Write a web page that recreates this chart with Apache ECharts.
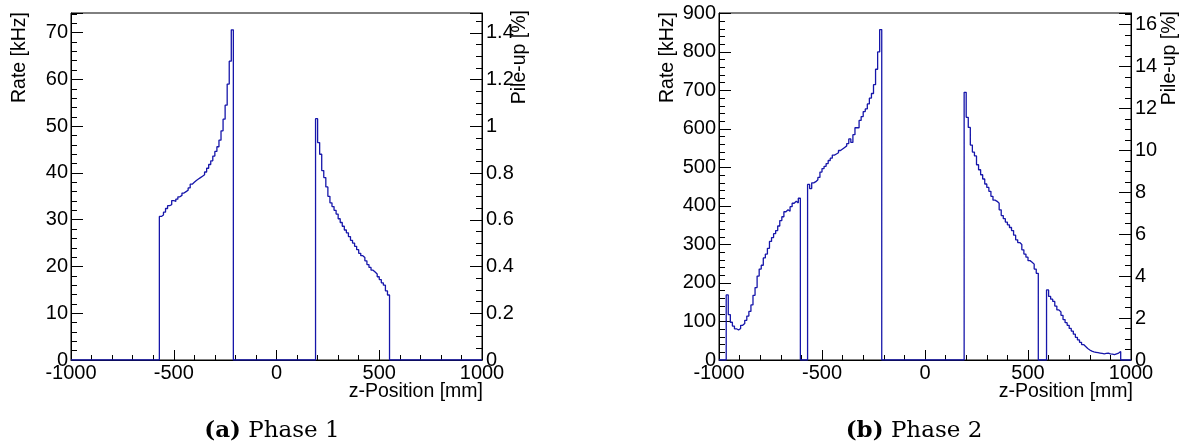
<!DOCTYPE html>
<html><head><meta charset="utf-8">
<script src="https://cdn.jsdelivr.net/npm/echarts@6/dist/echarts.min.js"></script>
<style>html,body{margin:0;padding:0;background:#fff}#c{width:1187px;height:446px}</style>
</head><body><div id="c"></div>
<script>
// ---------- data ----------
const binWidth = 10;                 // mm
const zRange = [-1000, 1000];        // mm
const zMajorStep = 500, zMinorStep = 100;

// Phase 1 : rate [kHz] per 10 mm bin, two sensor regions
const phase1Starts = [-570, 190];
const phase1RateA = [30.7, 31.0, 31.6, 32.4, 33.0, 33.2, 34.1, 33.9, 34.4, 34.9,
  35.2, 35.7, 36.0, 36.3, 36.8, 37.6, 38.0, 38.4, 38.7, 39.0,
  39.3, 39.6, 40.2, 41.0, 41.8, 42.6, 43.6, 44.6, 45.6, 47.0,
  49.0, 51.5, 54.5, 59.0, 63.9, 70.6];
const phase1RateB = [51.6, 46.5, 44.0, 40.5, 39.0, 37.0, 35.0, 33.6, 32.8, 32.0,
  31.2, 30.2, 29.4, 28.6, 27.8, 27.2, 26.4, 25.6, 25.0, 24.3,
  23.6, 22.8, 22.3, 21.9, 21.2, 20.4, 19.8, 19.2, 18.8, 18.4,
  17.8, 17.2, 16.5, 16.0, 14.8, 13.9];
const phase1RateAxis = {max: 74.2, major: 10, minor: 2};
const phase1PileAxis = {max: 1.485, major: 0.2, minor: 0.05};

// Phase 2 : rate [kHz] per 10 mm bin, four sensor regions
const phase2Starts = [-965, -570, 190, 590];
const phase2RateA = [169, 118, 98, 88, 81, 78, 82, 90, 95, 103,
  114, 126, 143, 168, 188, 218, 236, 246, 265, 275,
  290, 308, 318, 328, 336, 348, 362, 372, 385, 390,
  386, 398, 407, 412, 408, 420];
const phase2RateB = [456, 445, 460, 463, 468, 474, 488, 497, 503, 510,
  518, 524, 532, 535, 538, 544, 548, 552, 556, 562,
  574, 565, 585, 603, 603, 622, 632, 645, 652, 665,
  680, 692, 715, 755, 800, 858];
const phase2RateC = [695, 630, 604, 558, 540, 530, 507, 494, 481, 470,
  457, 448, 438, 425, 415, 412, 407, 390, 375, 367,
  358, 351, 344, 336, 324, 312, 305, 300, 286, 275,
  267, 258, 254, 249, 236, 225];
const phase2RateD = [182, 165, 158, 152, 140, 130, 125, 116, 105, 97,
  90, 82, 75, 67, 59, 52, 46, 40, 35, 30,
  26, 23, 21, 20, 19, 18, 17, 16, 17, 18,
  16, 15, 14, 16, 18, 22];
const phase2RateAxis = {max: 901, major: 100, minor: 20};
const phase2PileAxis = {max: 16.55, major: 2, minor: 0.5};

const texts = {
  rate: 'Rate [kHz]', pile: 'Pile-up [%]', z: 'z-Position [mm]',
  capA: ['(a)', 'Phase 1'], capB: ['(b)', 'Phase 2']
};

// ---------- build ----------
const BLUE = '#1616aa';
const FONT = 'Liberation Sans';
const FS = 20;
const TFS = 19.5;

function histPoints(starts, segs) {
  const pts = [[zRange[0], 0]];
  starts.forEach((s, k) => {
    const vals = segs[k];
    pts.push([s, 0]);
    vals.forEach((v, i) => { pts.push([s + i * binWidth, v]); pts.push([s + (i + 1) * binWidth, v]); });
    pts.push([s + vals.length * binWidth, 0]);
  });
  pts.push([zRange[1], 0]);
  return pts;
}

function fmt(step) {
  return function (v) {
    const r = v / step;
    if (Math.abs(r - Math.round(r)) > 1e-6) return '';
    return String(parseFloat(v.toFixed(3)));
  };
}

function xAxes(g) {
  return [
    {type: 'value', gridIndex: g, min: zRange[0], max: zRange[1], interval: zMajorStep, position: 'bottom',
     axisLine: {onZero: false, lineStyle: {color: '#000', width: 1}},
     axisTick: {inside: true, length: 10, lineStyle: {color: '#000'}},
     axisLabel: {margin: 3, color: '#000', fontSize: FS, fontFamily: FONT, formatter: fmt(zMajorStep)},
     splitLine: {show: false}},
    {type: 'value', gridIndex: g, min: zRange[0], max: zRange[1], interval: zMinorStep, position: 'bottom',
     axisLine: {show: false, onZero: false},
     axisTick: {inside: true, length: 5, lineStyle: {color: '#000'}},
     axisLabel: {show: false}, splitLine: {show: false}}
  ];
}
function yAxes(g, pos, ax) {
  return [
    {type: 'value', gridIndex: g, min: 0, max: ax.max, interval: ax.major, position: pos,
     axisLine: {show: true, onZero: false, lineStyle: {color: '#000', width: 1}},
     axisTick: {show: true, inside: true, length: 12, lineStyle: {color: '#000'}},
     axisLabel: {margin: pos === 'left' ? 3 : 4, color: '#000', fontSize: FS, fontFamily: FONT, formatter: fmt(ax.major)},
     splitLine: {show: false}},
    {type: 'value', gridIndex: g, min: 0, max: ax.max, interval: ax.minor, position: pos,
     axisLine: {show: false, onZero: false},
     axisTick: {show: true, inside: true, length: 6, lineStyle: {color: '#000'}},
     axisLabel: {show: false}, splitLine: {show: false}}
  ];
}

const grids = [
  {left: 71, top: 13, width: 411, height: 347},
  {left: 719, top: 13, width: 412, height: 347}
].map(g => Object.assign(g, {show: true, borderColor: '#000', borderWidth: 1, containLabel: false, outerBoundsMode: 'none'}));

function vtext(x, y, t) {
  return {type: 'text', x: x, y: y, rotation: Math.PI / 2, silent: true,
    style: {text: t, align: 'right', verticalAlign: 'middle', fill: '#000', font: TFS + 'px ' + FONT}};
}
function htext(x, y, t) {
  return {type: 'text', x: x, y: y, silent: true,
    style: {text: t, align: 'right', verticalAlign: 'middle', fill: '#000', font: TFS + 'px ' + FONT}};
}
function caption(x, y, c) {
  return {type: 'text', x: x, y: y, silent: true,
    style: {text: '{b|' + c[0] + '} ' + c[1], align: 'center', verticalAlign: 'middle', fill: '#000',
      font: '23px DejaVu Serif',
      rich: {b: {fontWeight: 'bold', fontSize: 23, fontFamily: 'DejaVu Serif'}}}};
}

const option = {
  animation: false,
  backgroundColor: '#fff',
  grid: grids,
  xAxis: [...xAxes(0), ...xAxes(1)],
  yAxis: [...yAxes(0, 'left', phase1RateAxis), ...yAxes(0, 'right', phase1PileAxis),
          ...yAxes(1, 'left', phase2RateAxis), ...yAxes(1, 'right', phase2PileAxis)],
  series: [
    {type: 'line', xAxisIndex: 0, yAxisIndex: 0, symbol: 'none', silent: true,
     lineStyle: {color: BLUE, width: 1.3}, data: histPoints(phase1Starts, [phase1RateA, phase1RateB])},
    {type: 'line', xAxisIndex: 2, yAxisIndex: 4, symbol: 'none', silent: true,
     lineStyle: {color: BLUE, width: 1.3},
     data: histPoints(phase2Starts, [phase2RateA, phase2RateB, phase2RateC, phase2RateD])}
  ],
  graphic: [
    vtext(20, 12, texts.rate), vtext(520, 10, texts.pile), htext(483, 392, texts.z),
    vtext(668, 12, texts.rate), vtext(1170, 11, texts.pile), htext(1133, 392, texts.z),
    caption(272, 431, texts.capA), caption(914, 431, texts.capB)
  ]
};
const chart = echarts.init(document.getElementById('c'), null, {renderer: 'canvas'});
chart.setOption(option);
</script></body></html>
